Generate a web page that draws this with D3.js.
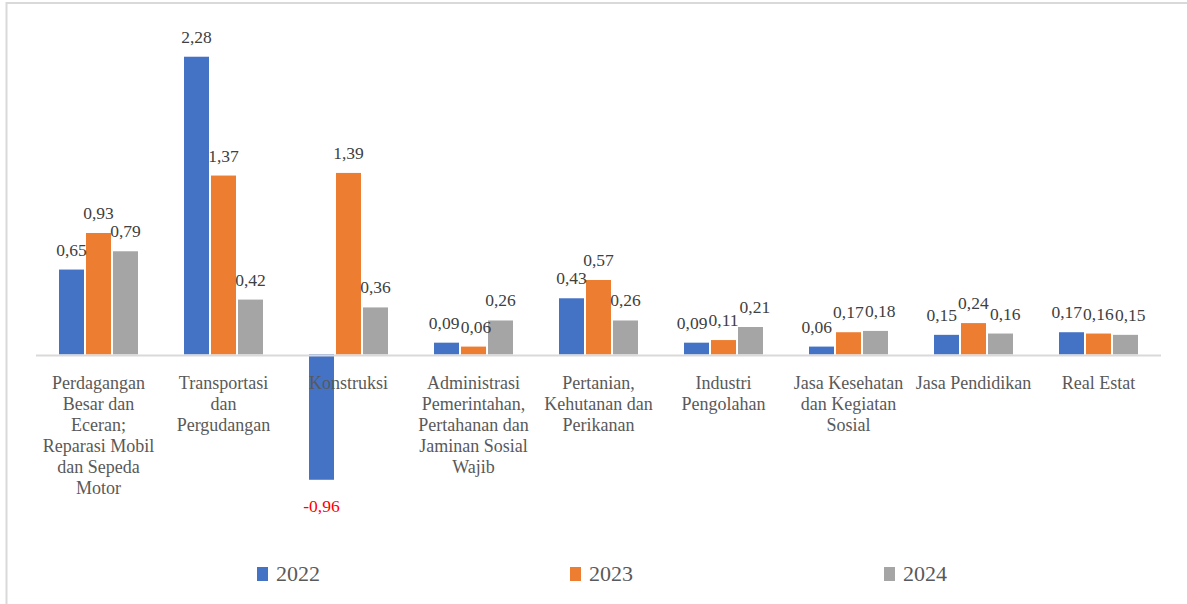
<!DOCTYPE html>
<html>
<head>
<meta charset="utf-8">
<script src="https://cdn.jsdelivr.net/npm/d3@7"></script>
<style>
    html, body { margin: 0; padding: 0; background: #fff; }
    svg { display: block; }
</style>
</head>
<body>
<svg id="chart" width="1187" height="604"></svg>
<script>
// categories (line breaks as in the original axis labels)
const categories = [
    'Perdagangan\nBesar dan\nEceran;\nReparasi Mobil\ndan Sepeda\nMotor',
    'Transportasi\ndan\nPergudangan',
    'Konstruksi',
    'Administrasi\nPemerintahan,\nPertahanan dan\nJaminan Sosial\nWajib',
    'Pertanian,\nKehutanan dan\nPerikanan',
    'Industri\nPengolahan',
    'Jasa Kesehatan\ndan Kegiatan\nSosial',
    'Jasa Pendidikan',
    'Real Estat'
];
const years = ['2022', '2023', '2024'];
const values2022 = [0.65, 2.28, -0.96, 0.09, 0.43, 0.09, 0.06, 0.15, 0.17];
const values2023 = [0.93, 1.37, 1.39, 0.06, 0.57, 0.11, 0.17, 0.24, 0.16];
const values2024 = [0.79, 0.42, 0.36, 0.26, 0.26, 0.21, 0.18, 0.16, 0.15];
const colors = ['#4472C4', '#ED7D31', '#A5A5A5'];

const FONT = "'Liberation Serif', 'Times New Roman', Times, 'DejaVu Serif', serif";
const series = [values2022, values2023, values2024];
const fmt = v => d3.format('.2f')(v).replace('.', ',').replace('−', '-');

const svg = d3.select('#chart').attr('font-family', FONT);

// cadre
svg.append('rect')
    .attr('x', 6.5).attr('y', 3)
    .attr('width', 1200).attr('height', 700)
    .attr('fill', 'none')
    .attr('stroke', '#d9d9d9')
    .attr('stroke-width', 2);

const x0 = d3.scaleBand().domain(d3.range(categories.length)).range([36, 1161]);
const x1 = d3.scaleBand().domain(years).range([23, 102]).paddingInner(0.074);
const y = d3.scaleLinear().domain([-1, 2.5]).range([485, 28]);

// barres
years.forEach((yr, s) => {
    svg.append('g').selectAll('rect')
        .data(series[s])
        .join('rect')
        .attr('x', (d, i) => x0(i) + x1(yr))
        .attr('width', x1.bandwidth())
        .attr('y', d => y(Math.max(0, d)))
        .attr('height', d => Math.abs(y(d) - y(0)))
        .attr('fill', colors[s]);
});

// axe horizontal
svg.append('line')
    .attr('x1', 36).attr('x2', 1161)
    .attr('y1', y(0) + 1).attr('y2', y(0) + 1)
    .attr('stroke', '#d9d9d9')
    .attr('stroke-width', 2);

// étiquettes des catégories
const catLabels = svg.append('g').selectAll('text')
    .data(categories)
    .join('text')
    .attr('text-anchor', 'middle')
    .attr('font-size', 18)
    .attr('fill', '#595959')
    .attr('x', (d, i) => x0(i) + x0.bandwidth() / 2)
    .attr('y', 389);
catLabels.each(function(d) {
    const t = d3.select(this);
    d.split('\n').forEach((line, k) => {
        t.append('tspan')
            .attr('x', t.attr('x'))
            .attr('dy', k === 0 ? 0 : 21)
            .text(line);
    });
});

// étiquettes des valeurs
const valueLayer = svg.append('g');
const labelNodes = categories.map(() => []);
years.forEach((yr, s) => {
    valueLayer.append('g').selectAll('text')
        .data(series[s])
        .join('text')
        .attr('text-anchor', 'middle')
        .attr('font-size', 17.5)
        .attr('fill', d => d < 0 ? '#ff0000' : '#404040')
        .attr('x', (d, i) => x0(i) + x1(yr) + x1.bandwidth() / 2)
        .attr('y', d => d < 0 ? y(d) + 32 : y(d) - 14)
        .text(fmt)
        .each(function(d, i) { labelNodes[i][s] = this; });
});

// écarte les étiquettes voisines qui se chevauchent
labelNodes.forEach(nodes => {
    for (let pass = 0; pass < 3; pass++) {
        for (let k = 0; k < nodes.length - 1; k++) {
            const a = nodes[k].getBBox(), b = nodes[k + 1].getBBox();
            const overlapY = Math.min(a.y + a.height, b.y + b.height) - Math.max(a.y, b.y);
            const overlapX = (a.x + a.width + 1) - b.x;
            if (overlapY > 2 && overlapX > 0) {
                const la = d3.select(nodes[k]), lb = d3.select(nodes[k + 1]);
                la.attr('x', +la.attr('x') - overlapX / 2);
                lb.attr('x', +lb.attr('x') + overlapX / 2);
            }
        }
    }
});

// légende
const legendX = [257, 570, 884];
const legend = svg.append('g').selectAll('g')
    .data(years)
    .join('g')
    .attr('transform', (d, i) => `translate(${legendX[i]},567)`);
legend.append('rect')
    .attr('width', 11).attr('height', 14)
    .attr('fill', (d, i) => colors[i]);
legend.append('text')
    .attr('x', 19).attr('y', 14)
    .attr('font-size', 22)
    .attr('fill', '#595959')
    .text(d => d);
</script>
</body>
</html>
